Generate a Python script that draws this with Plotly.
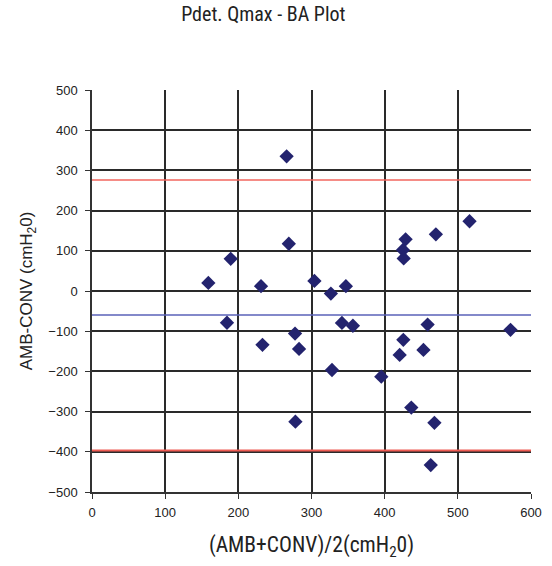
import plotly.graph_objects as go

# Data
mean_xy = [159, 189.6, 184.5, 231, 233, 266, 269, 277.5, 283, 278,
           304, 326.5, 328, 341.6, 347, 356.6, 395.4, 420.5, 425.5, 425,
           426, 428.6, 436.4, 453, 458.7, 463, 468, 470, 516, 572]
diff_xy = [20, 80, -79, 12, -134, 335, 117.5, -106, -144, -325,
           25, -6.5, -196.5, -79.5, 12, -86.5, -213, -159, -121.5, 102,
           81, 128.5, -290, -146.5, -83.5, -433, -328, 141, 173.5, -96.5]
bias = -60
upper_loa = 276
lower_loa = -397
x_ticks = [0, 100, 200, 300, 400, 500, 600]
y_ticks = [-500, -400, -300, -200, -100, 0, 100, 200, 300, 400, 500]

fig = go.Figure()

line_x = [0, 600]
fig.add_trace(go.Scatter(x=line_x, y=[upper_loa, upper_loa], mode="lines",
                         line=dict(color="#F2665E", width=1.5), hoverinfo="skip"))
fig.add_trace(go.Scatter(x=line_x, y=[lower_loa, lower_loa], mode="lines",
                         line=dict(color="#EE5A52", width=2), hoverinfo="skip"))
fig.add_trace(go.Scatter(x=line_x, y=[bias, bias], mode="lines",
                         line=dict(color="#5A62B8", width=1.5), hoverinfo="skip"))
fig.add_trace(go.Scatter(x=mean_xy, y=diff_xy, mode="markers",
                         marker=dict(symbol="diamond", size=11, color="#23236E",
                                     line=dict(width=0))))

narrow = "Liberation Sans Narrow, Roboto Condensed, Arial Narrow, sans-serif"
regular = "Liberation Sans, Arial, sans-serif"

fig.update_layout(
    width=552, height=566,
    margin=dict(l=92, r=21, t=90, b=74),
    paper_bgcolor="white", plot_bgcolor="white",
    showlegend=False,
    title=dict(text="Pdet. Qmax - BA Plot", x=0.477, xanchor="center",
               y=0.976, yanchor="middle",
               font=dict(family=narrow, size=20, color="#222222")),
    xaxis=dict(range=[0, 600], tickvals=x_ticks, ticks="outside", ticklen=5,
               tickcolor="#333333", showline=True, linecolor="#333333", linewidth=1.5,
               showgrid=True, gridcolor="#2a2a2a", gridwidth=1.5, zeroline=False,
               automargin=False, ticklabelstandoff=3,
               tickfont=dict(family=regular, size=13, color="#222222"),
               title=dict(text="(AMB+CONV)/2(cmH<sub>2</sub>0)", standoff=18,
                          font=dict(family=narrow, size=21.5, color="#222222"))),
    yaxis=dict(range=[-500, 500], tickvals=y_ticks, ticks="outside", ticklen=5,
               tickcolor="#333333", showline=True, linecolor="#333333", linewidth=1.5,
               showgrid=True, gridcolor="#2a2a2a", gridwidth=1.5, zeroline=False,
               automargin=False, ticklabelstandoff=5,
               tickfont=dict(family=regular, size=13, color="#222222"),
               title=dict(text="AMB-CONV (cmH<sub>2</sub>0)", standoff=11,
                          font=dict(family=regular, size=17, color="#222222"))),
)

fig.write_html("out.html", config={"displayModeBar": False},
               post_script="document.body.style.margin='0';")
